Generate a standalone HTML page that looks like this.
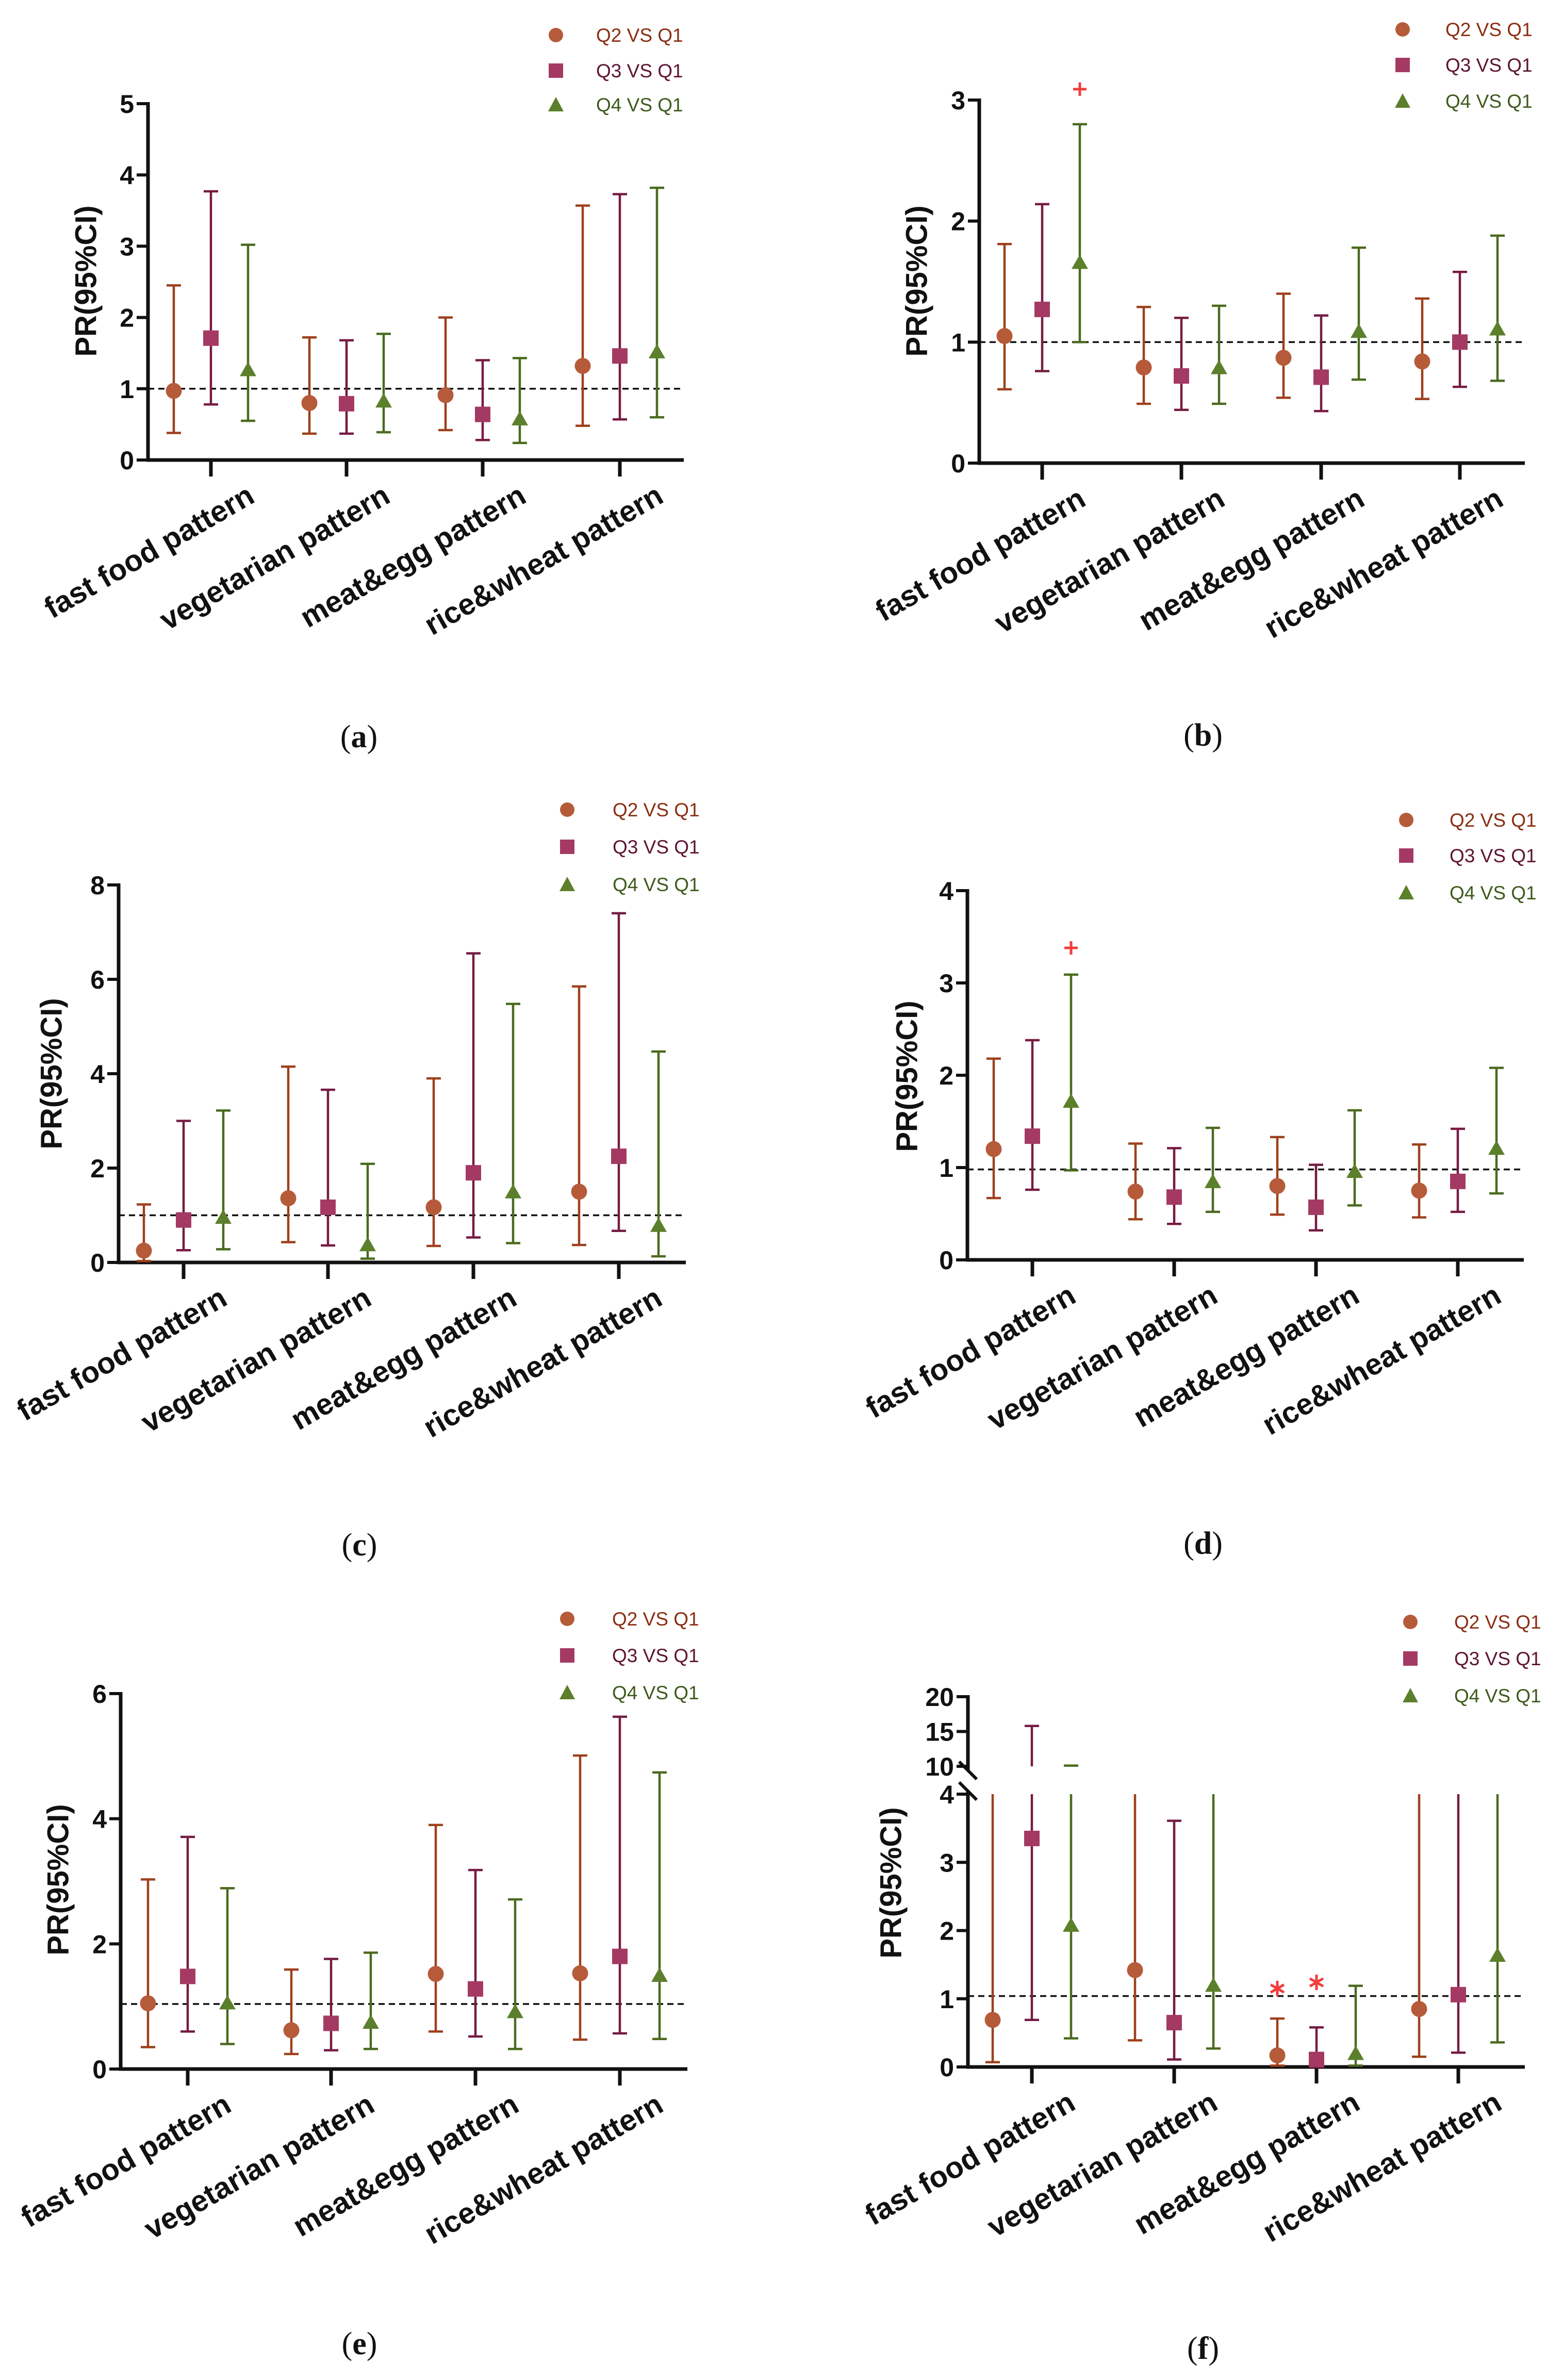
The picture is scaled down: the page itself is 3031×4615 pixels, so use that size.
<!DOCTYPE html>
<html><head><meta charset="utf-8"><style>
html,body{margin:0;padding:0;background:#fff;}
svg{display:block;}
</style></head><body>
<svg id="fig" width="3031" height="4615" viewBox="0 0 3031 4615" xmlns="http://www.w3.org/2000/svg" font-family="Liberation Sans, Arial, sans-serif"></svg>
<script>
// ---- shared data ----
const categories = ["fast food pattern","vegetarian pattern","meat&egg pattern","rice&wheat pattern"];
const seriesNames = ["Q2 VS Q1","Q3 VS Q1","Q4 VS Q1"];

// panel a
const aEst = [[0.97,0.80,0.91,1.32],[1.71,0.79,0.64,1.46],[1.27,0.83,0.58,1.52]];
const aLo  = [[0.38,0.37,0.42,0.48],[0.78,0.37,0.28,0.57],[0.55,0.39,0.24,0.60]];
const aHi  = [[2.45,1.72,2.00,3.57],[3.77,1.68,1.40,3.73],[3.02,1.77,1.43,3.82]];
const aTicks = [0,1,2,3,4,5];
// panel b
const bEst = [[1.05,0.79,0.87,0.84],[1.27,0.72,0.71,1.00],[1.66,0.79,1.09,1.11]];
const bLo  = [[0.61,0.49,0.54,0.53],[0.76,0.44,0.43,0.63],[1.00,0.49,0.69,0.68]];
const bHi  = [[1.81,1.29,1.40,1.36],[2.14,1.20,1.22,1.58],[2.80,1.30,1.78,1.88]];
const bTicks = [0,1,2,3];
// panel c
const cEst = [[0.25,1.36,1.17,1.50],[0.90,1.17,1.90,2.25],[0.96,0.38,1.50,0.79]];
const cLo  = [[0.03,0.43,0.35,0.37],[0.26,0.36,0.53,0.67],[0.28,0.08,0.41,0.13]];
const cHi  = [[1.23,4.15,3.90,5.85],[3.00,3.66,6.55,7.40],[3.22,2.09,5.48,4.47]];
const cTicks = [0,2,4,6,8];
// panel d
const dEst = [[1.20,0.74,0.80,0.75],[1.34,0.68,0.57,0.85],[1.72,0.85,0.96,1.21]];
const dLo  = [[0.67,0.44,0.49,0.46],[0.76,0.39,0.32,0.52],[0.97,0.52,0.59,0.72]];
const dHi  = [[2.18,1.26,1.33,1.25],[2.38,1.21,1.03,1.42],[3.09,1.43,1.62,2.08]];
const dTicks = [0,1,2,3,4];
// panel e
const eEst = [[1.05,0.62,1.52,1.53],[1.48,0.73,1.28,1.80],[1.06,0.75,0.92,1.50]];
const eLo  = [[0.35,0.24,0.60,0.47],[0.60,0.30,0.52,0.57],[0.40,0.32,0.32,0.48]];
const eHi  = [[3.03,1.59,3.90,5.01],[3.71,1.76,3.18,5.63],[2.89,1.86,2.71,4.74]];
const eTicks = [0,2,4,6];
// panel f
const fEst = [[0.69,1.42,0.17,0.85],[3.35,0.65,0.11,1.06],[2.08,1.20,0.20,1.64]];
const fLo  = [[0.07,0.39,0.02,0.15],[0.69,0.11,0.00,0.21],[0.42,0.27,0.02,0.36]];
const fHi  = [[6.0,6.0,0.71,6.0],[15.8,3.61,0.58,6.0],[10.1,6.0,1.19,6.0]];
const fTicks = [0,1,2,3,4,10,15,20];

const refLine = {a:1.0,b:1.0,c:1.0,d:0.98,e:1.04,f:1.04};
const plusMarks = {b:{cat:0,ser:2,val:3.09}, d:{cat:0,ser:2,val:3.38}};
const starMarks = [{cat:2,ser:0,val:1.15},{cat:2,ser:1,val:1.24}];

const markerFill = ["#B65B3A","#A43A63","#5C7F2C"];
const barColor = ["#9E401C","#761B42","#4B6A1F"];
const legendColor = ["#8A2E12","#5E1433","#3E5A1C"];

const NS = "http://www.w3.org/2000/svg";
const svg = document.getElementById("fig");
function mk(parent, tag, attrs, txt){
  const e = document.createElementNS(NS, tag);
  for (const k in attrs) e.setAttribute(k, attrs[k]);
  if (txt !== undefined) e.textContent = txt;
  parent.appendChild(e);
  return e;
}

function drawPanel(p){
  const g = mk(svg, "g", {});
  
  
  const y = p.yScale;
  const rl = mk(g, "line", {x1:p.axisX, x2:p.xEnd, y1:y(refLine[p.id]), y2:y(refLine[p.id]), stroke:"#111", "stroke-width":3.5, "stroke-dasharray":"12 8"});
  
  
  if (p.id === "f"){
    const ua = mk(g, "line", {x1:p.axisX, x2:p.axisX, y1:y(20)-3, y2:y(10)+8, stroke:"#111", "stroke-width":7});
    
    
    const la = mk(g, "line", {x1:p.axisX, x2:p.axisX, y1:y(4)-6, y2:p.y0+3, stroke:"#111", "stroke-width":7});
    
    
    [y(10)+8, y(4)-6].forEach(function(cy){
      const s = mk(g, "line", {x1:p.axisX-17, y1:cy-17, x2:p.axisX+17, y2:cy+17, stroke:"#111", "stroke-width":6});
      
      
    });
  } else {
    const ya = mk(g, "line", {x1:p.axisX, x2:p.axisX, y1:y(p.ticks[p.ticks.length-1])-3, y2:p.y0+3, stroke:"#111", "stroke-width":7});
    
    
  }
  const xa = mk(g, "line", {x1:p.axisX-3, x2:p.xEnd, y1:p.y0, y2:p.y0, stroke:"#111", "stroke-width":7});
  
  
  p.ticks.forEach(function(t){
    const ty = y(t);
    const tl = mk(g, "line", {x1:p.axisX-22, x2:p.axisX, y1:ty, y2:ty, stroke:"#111", "stroke-width":6});
    
    
    const tt = mk(g, "text", {x:p.axisX-27, y:ty+18, "text-anchor":"end", "font-size":50, "font-weight":"bold", fill:"#111"}, String(t));
    
    
  });
  const yt = mk(g, "text", {x:p.titleX, y:p.titleY, "text-anchor":"middle", "dominant-baseline":"central", "font-size":58, "font-weight":"bold", fill:"#111", transform:"rotate(-90 "+p.titleX+" "+p.titleY+")"}, "PR(95%CI)");
  
  
  categories.forEach(function(c, i){
    const cx = p.ticksX[i];
    const xt = mk(g, "line", {x1:cx, x2:cx, y1:p.y0, y2:p.y0+32, stroke:"#111", "stroke-width":7});
    
    
    const ax = cx + 88, ay = p.y0 + 80;
    const ct = mk(g, "text", {x:ax, y:ay, "text-anchor":"end", "font-size":58, "font-weight":"bold", fill:"#111", transform:"rotate(-30 "+ax+" "+ay+")"}, c);
    
    
  });
  for (let s = 0; s < 3; s++){
    for (let i = 0; i < 4; i++){
      const x = p.ticksX[i] + (s-1)*p.off;
      const lo = p.lo[s][i], hi = p.hi[s][i], est = p.est[s][i];
      const eg = mk(g, "g", {});
      
      
      const st = {stroke:barColor[s], "stroke-width":4.5};
      const ylo = y(lo);
      if (p.id === "f" && hi > 4){
        mk(eg, "line", Object.assign({x1:x, x2:x, y1:ylo, y2:y(4)}, st));
        if (hi >= 10){
          mk(eg, "line", Object.assign({x1:x, x2:x, y1:y(10), y2:y(hi)}, st));
          mk(eg, "line", Object.assign({x1:x-14, x2:x+14, y1:y(hi), y2:y(hi)}, st));
        }
      } else {
        mk(eg, "line", Object.assign({x1:x, x2:x, y1:ylo, y2:y(hi)}, st));
        mk(eg, "line", Object.assign({x1:x-14, x2:x+14, y1:y(hi), y2:y(hi)}, st));
      }
      mk(eg, "line", Object.assign({x1:x-14, x2:x+14, y1:ylo, y2:ylo}, st));
      const my = y(est);
      let m;
      if (s === 0) m = mk(g, "circle", {cx:x, cy:my, r:15.5, fill:markerFill[0]});
      else if (s === 1) m = mk(g, "rect", {x:x-15, y:my-15, width:30, height:30, fill:markerFill[1]});
      else m = mk(g, "polygon", {points:(x)+","+(my-15)+" "+(x+16)+","+(my+13)+" "+(x-16)+","+(my+13), fill:markerFill[2]});
      
      
    }
  }
  for (let s = 0; s < 3; s++){
    const ly = p.legRows[s], lx = p.legMX;
    let m;
    if (s === 0) m = mk(g, "circle", {cx:lx, cy:ly, r:14, fill:markerFill[0]});
    else if (s === 1) m = mk(g, "rect", {x:lx-14, y:ly-14, width:28, height:28, fill:markerFill[1]});
    else m = mk(g, "polygon", {points:lx+","+(ly-15)+" "+(lx+15)+","+(ly+13)+" "+(lx-15)+","+(ly+13), fill:markerFill[2]});
    
    
    const lt = mk(g, "text", {x:p.legTX+4, y:ly+13, "font-size":37, fill:legendColor[s]}, seriesNames[s]);
    
    
  }
  if (plusMarks[p.id]){
    const pm = plusMarks[p.id];
    const px = p.ticksX[pm.cat] + (pm.ser-1)*p.off, py = y(pm.val);
    const pg = mk(g, "g", {});
    
    
    mk(pg, "line", {x1:px-13, x2:px+13, y1:py, y2:py, stroke:"#F23D3D", "stroke-width":5});
    mk(pg, "line", {x1:px, x2:px, y1:py-13, y2:py+13, stroke:"#F23D3D", "stroke-width":5});
  }
  if (p.id === "f"){
    starMarks.forEach(function(sm){
      const sx = p.ticksX[sm.cat] + (sm.ser-1)*p.off, sy = y(sm.val);
      const sg = mk(g, "g", {});
      
      
      for (let k = 0; k < 3; k++){
        const a = Math.PI/2 + k*Math.PI/3;
        mk(sg, "line", {x1:sx-15*Math.cos(a), y1:sy-15*Math.sin(a), x2:sx+15*Math.cos(a), y2:sy+15*Math.sin(a), stroke:"#F23D3D", "stroke-width":5});
      }
    });
  }
  const cap = mk(g, "text", {x:p.capX, y:p.capY+20, "text-anchor":"middle", "font-size":62, "font-family":"Liberation Serif, serif", style:"font-family:'Liberation Serif',serif", fill:"#111"});
  
  
  mk(cap, "tspan", {}, "(");
  mk(cap, "tspan", {"font-weight":"bold"}, p.id);
  mk(cap, "tspan", {}, ")");
}

function linScale(y0, yTop, vTop){ return function(v){ return y0 - v*(y0-yTop)/vTop; }; }

const panels = [
 {id:"a", axisX:287, y0:892, xEnd:1326, ticksX:[409,672,936,1202], off:72, legMX:1078, legTX:1152, legRows:[68,137,203], capX:696, capY:1429, titleX:167, titleY:545, ticks:aTicks, est:aEst, lo:aLo, hi:aHi, yScale:linScale(892,201,5)},
 {id:"b", axisX:1899, y0:898, xEnd:2957, ticksX:[2021,2291,2562,2831], off:73, legMX:2720, legTX:2799, legRows:[57,126,196], capX:2333, capY:1426, titleX:1778, titleY:545, ticks:bTicks, est:bEst, lo:bLo, hi:bHi, yScale:linScale(898,194,3)},
 {id:"c", axisX:230, y0:2448, xEnd:1330, ticksX:[356,636,918,1200], off:77, legMX:1100, legTX:1184, legRows:[1570,1642,1715], capX:697, capY:2996, titleX:100, titleY:2082, ticks:cTicks, est:cEst, lo:cLo, hi:cHi, yScale:linScale(2448,1716,8)},
 {id:"d", axisX:1876, y0:2443, xEnd:2955, ticksX:[2002,2277,2552,2827], off:75, legMX:2727, legTX:2807, legRows:[1590,1659,1731], capX:2333, capY:2993, titleX:1759, titleY:2087, ticks:dTicks, est:dEst, lo:dLo, hi:dHi, yScale:linScale(2443,1727,4)},
 {id:"e", axisX:234, y0:4012, xEnd:1333, ticksX:[364,642,922,1202], off:77, legMX:1100, legTX:1183, legRows:[3139,3210,3282], capX:697, capY:4545, titleX:113, titleY:3645, ticks:eTicks, est:eEst, lo:eLo, hi:eHi, yScale:linScale(4012,3284,6)},
 {id:"f", axisX:1877, y0:4008, xEnd:2957, ticksX:[2001,2277,2553,2828], off:76, legMX:2735, legTX:2816, legRows:[3145,3216,3288], capX:2333, capY:4554, titleX:1728, titleY:3651, ticks:fTicks, est:fEst, lo:fLo, hi:fHi,
   yScale:function(v){ if (v <= 4) return 4008 - v*(4008-3479)/4; return 3425 - (v-10)*(3425-3290)/10; }}
];
panels.forEach(drawPanel);
</script>
</body></html>
